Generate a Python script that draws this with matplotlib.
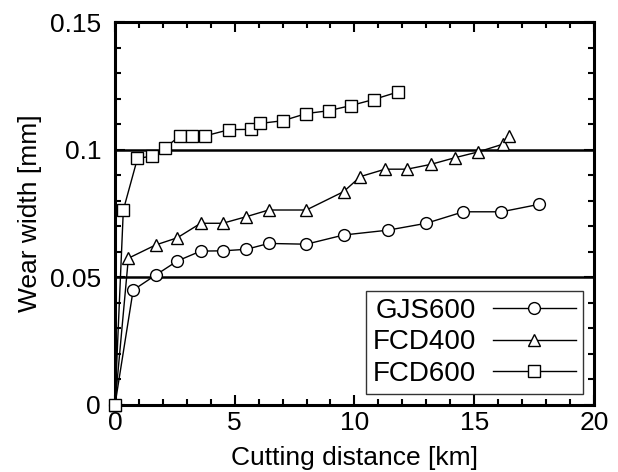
import matplotlib
matplotlib.use("Agg")
import matplotlib.pyplot as plt
from matplotlib.ticker import MultipleLocator

plt.rcParams['font.family'] = ['Liberation Sans', 'DejaVu Sans']

# Cutting distance [km] and flank wear width [mm] for each material
gjs600_x = [0, 0.76, 1.7, 2.6, 3.58, 4.5, 5.49, 6.42, 7.99, 9.55, 11.4, 13.0, 14.55, 16.14, 17.7]
gjs600_y = [0, 0.045, 0.0509, 0.0564, 0.0603, 0.0604, 0.061, 0.0633, 0.063, 0.0666, 0.0685, 0.0712, 0.0757, 0.0757, 0.0786]

fcd400_x = [0, 0.56, 1.7, 2.6, 3.58, 4.5, 5.49, 6.42, 7.99, 9.55, 10.25, 11.28, 12.2, 13.2, 14.2, 15.18, 16.2, 16.46]
fcd400_y = [0, 0.0575, 0.0627, 0.0655, 0.0712, 0.0712, 0.0738, 0.0764, 0.0764, 0.0836, 0.0895, 0.0924, 0.0924, 0.0943, 0.0969, 0.0992, 0.1022, 0.1055]

fcd600_x = [0, 0.35, 0.94, 1.53, 2.1, 2.7, 3.2, 3.75, 4.78, 5.7, 6.04, 7.02, 7.99, 8.92, 9.84, 10.8, 11.8]
fcd600_y = [0, 0.0764, 0.0966, 0.0975, 0.1008, 0.1054, 0.1054, 0.1054, 0.1079, 0.108, 0.1103, 0.1114, 0.1142, 0.1153, 0.1173, 0.1197, 0.1226]

series_labels = ["GJS600", "FCD400", "FCD600"]
ref_levels = [0.05, 0.1]
x_ticks = [0, 5, 10, 15, 20]
x_ticklabels = ['0', '5', '10', '15', '20']
y_ticks = [0, 0.05, 0.1, 0.15]
y_ticklabels = ['0', '0.05', '0.1', '0.15']

fig = plt.figure(figsize=(6.18, 4.72), dpi=100)
ax = fig.add_axes([0.186, 0.142, 0.775, 0.811])

for lv in ref_levels:
    ax.axhline(lv, color='black', lw=1.8, zorder=1)

style = dict(color='black', lw=1.0, markersize=8.5, markerfacecolor='white',
             markeredgecolor='black', markeredgewidth=1.0, clip_on=False, zorder=3)
ax.plot(gjs600_x, gjs600_y, marker='o', label=series_labels[0], **style)
ax.plot(fcd400_x, fcd400_y, marker='^', label=series_labels[1], **style)
ax.plot(fcd600_x, fcd600_y, marker='s', label=series_labels[2], **style)

ax.set_xlim(0, 20)
ax.set_ylim(0, 0.15)
ax.set_xticks(x_ticks)
ax.set_xticklabels(x_ticklabels)
ax.set_yticks(y_ticks)
ax.set_yticklabels(y_ticklabels)
ax.xaxis.set_minor_locator(MultipleLocator(1))
ax.yaxis.set_minor_locator(MultipleLocator(0.01))

ax.tick_params(which='both', direction='in', top=True, right=True, width=1.5,
               labelsize=19)
ax.tick_params(which='major', length=7, pad=4)
ax.tick_params(which='minor', length=4)
ax.tick_params(axis='y', which='major', pad=10)
for s in ax.spines.values():
    s.set_linewidth(2.2)

ax.set_xlabel('Cutting distance [km]', fontsize=19, labelpad=8)
ax.set_ylabel('Wear width [mm]', fontsize=19, labelpad=6)

leg = ax.legend(loc='lower right', markerfirst=False, fontsize=20, frameon=True,
                fancybox=False, edgecolor='black', handlelength=3.0,
                borderpad=0.25, labelspacing=0.2, handletextpad=0.6,
                borderaxespad=0.0, bbox_to_anchor=(0.977, 0.029))
leg.get_frame().set_linewidth(1.0)

fig.savefig('out.png', dpi=100)
